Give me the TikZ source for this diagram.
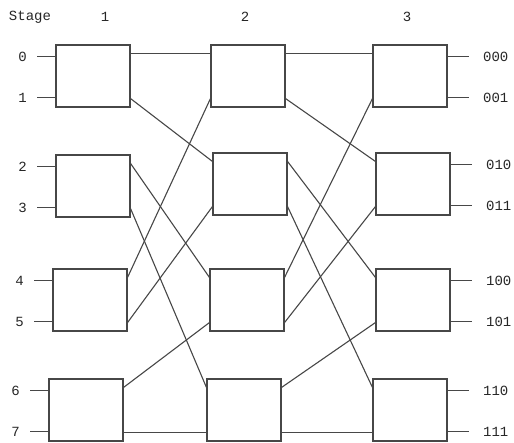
\documentclass[tikz,border=0pt]{standalone}
\usepackage{fontspec}
\setmonofont{Liberation Mono}
\usetikzlibrary{positioning}

\begin{document}
\begin{tikzpicture}[
    x=1pt,
    y=-1pt,
    sw/.style={draw, rectangle, minimum width=74pt, minimum height=62pt, inner sep=0pt},
    lbl/.style={font=\ttfamily\fontsize{14}{16}\selectfont, inner sep=1pt, text=black!85},
    line width=1.1pt, black!72
]
\useasboundingbox (0,0) rectangle (514,443);

\node[lbl] (stage) at (30,17) {Stage};
\node[lbl] (col1) at (105,17) {1};
\node[lbl] (col2) at (245,17) {2};
\node[lbl] (col3) at (407,17) {3};

\node[sw] (sw11) at (93,76) {};
\node[sw] (sw12) at (93,186) {};
\node[sw] (sw13) at (90,300) {};
\node[sw] (sw14) at (86,410) {};

\node[sw] (sw21) at (248,76) {};
\node[sw] (sw22) at (250,184) {};
\node[sw] (sw23) at (247,300) {};
\node[sw] (sw24) at (244,410) {};

\node[sw] (sw31) at (410,76) {};
\node[sw] (sw32) at (413,184) {};
\node[sw] (sw33) at (413,300) {};
\node[sw] (sw34) at (410,410) {};

\draw ([yshift=-12pt]sw11.north west) -- ++(-18,0) node[lbl,left=9pt] (in0) {0};
\draw ([yshift=10pt]sw11.south west) -- ++(-18,0) node[lbl,left=9pt] (in1) {1};
\draw ([yshift=-12pt]sw12.north west) -- ++(-18,0) node[lbl,left=9pt] (in2) {2};
\draw ([yshift=10pt]sw12.south west) -- ++(-18,0) node[lbl,left=9pt] (in3) {3};
\draw ([yshift=-12pt]sw13.north west) -- ++(-18,0) node[lbl,left=9pt] (in4) {4};
\draw ([yshift=10pt]sw13.south west) -- ++(-18,0) node[lbl,left=9pt] (in5) {5};
\draw ([yshift=-12pt]sw14.north west) -- ++(-18,0) node[lbl,left=9pt] (in6) {6};
\draw ([yshift=10pt]sw14.south west) -- ++(-18,0) node[lbl,left=9pt] (in7) {7};

\draw ([yshift=-9pt]sw11.north east) -- ([yshift=-9pt]sw21.north west);
\draw ([yshift=9pt]sw11.south east) -- ([yshift=-9pt]sw22.north west);
\draw ([yshift=-9pt]sw12.north east) -- ([yshift=-9pt]sw23.north west);
\draw ([yshift=9pt]sw12.south east) -- ([yshift=-9pt]sw24.north west);
\draw ([yshift=-9pt]sw13.north east) -- ([yshift=9pt]sw21.south west);
\draw ([yshift=9pt]sw13.south east) -- ([yshift=9pt]sw22.south west);
\draw ([yshift=-9pt]sw14.north east) -- ([yshift=9pt]sw23.south west);
\draw ([yshift=9pt]sw14.south east) -- ([yshift=9pt]sw24.south west);

\draw ([yshift=-9pt]sw21.north east) -- ([yshift=-9pt]sw31.north west);
\draw ([yshift=9pt]sw21.south east) -- ([yshift=-9pt]sw32.north west);
\draw ([yshift=-9pt]sw22.north east) -- ([yshift=-9pt]sw33.north west);
\draw ([yshift=9pt]sw22.south east) -- ([yshift=-9pt]sw34.north west);
\draw ([yshift=-9pt]sw23.north east) -- ([yshift=9pt]sw31.south west);
\draw ([yshift=9pt]sw23.south east) -- ([yshift=9pt]sw32.south west);
\draw ([yshift=-9pt]sw24.north east) -- ([yshift=9pt]sw33.south west);
\draw ([yshift=9pt]sw24.south east) -- ([yshift=9pt]sw34.south west);

\draw ([yshift=-12pt]sw31.north east) -- ++(21,0) node[lbl,right=13pt] (out0) {000};
\draw ([yshift=10pt]sw31.south east) -- ++(21,0) node[lbl,right=13pt] (out1) {001};
\draw ([yshift=-12pt]sw32.north east) -- ++(21,0) node[lbl,right=13pt] (out2) {010};
\draw ([yshift=10pt]sw32.south east) -- ++(21,0) node[lbl,right=13pt] (out3) {011};
\draw ([yshift=-12pt]sw33.north east) -- ++(21,0) node[lbl,right=13pt] (out4) {100};
\draw ([yshift=10pt]sw33.south east) -- ++(21,0) node[lbl,right=13pt] (out5) {101};
\draw ([yshift=-12pt]sw34.north east) -- ++(21,0) node[lbl,right=13pt] (out6) {110};
\draw ([yshift=10pt]sw34.south east) -- ++(21,0) node[lbl,right=13pt] (out7) {111};
\end{tikzpicture}
\end{document}
